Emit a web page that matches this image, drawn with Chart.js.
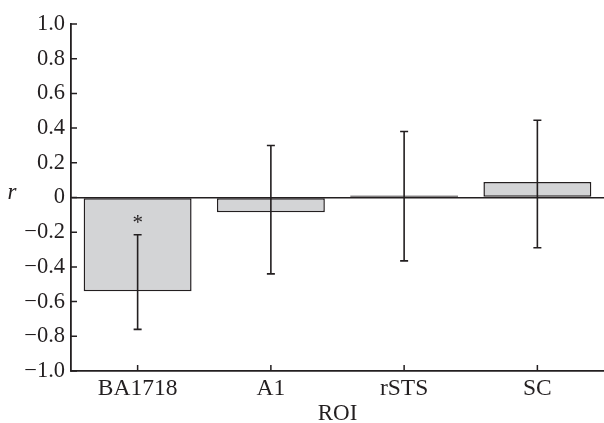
<!DOCTYPE html>
<html>
<head>
<meta charset="utf-8">
<script src="https://cdn.jsdelivr.net/npm/chart.js@4"></script>
<style>
  html, body { margin: 0; padding: 0; background: #fff; }
  #wrap { width: 604px; height: 423px; position: relative; }
</style>
</head>
<body>
<div id="wrap"><canvas id="roiChart"></canvas></div>
<script>
// ---------------------- Data ----------------------
const ROI_LABELS = ['BA1718', 'A1', 'rSTS', 'SC'];
const R_VALUES   = [-0.54, -0.085, 0.012, 0.09];
const CI_LOWER   = [-0.76, -0.44, -0.365, -0.29];
const CI_UPPER   = [-0.215, 0.30, 0.38, 0.445];
const SIG_MARKS  = ['*', '', '', ''];

const INK = '#231f20';
const FONT = '"Liberation Serif", "Times New Roman", serif';

// tick labels: "0", "0.2", "−0.4" ...
const fmtTick = (v) => {
  const r = Math.round(v * 10) / 10;
  if (r === 0) return '0';
  return (r < 0 ? '\u2212' : '') + Math.abs(r).toFixed(1);
};

// ---------------------- Plugins ----------------------
const errorBars = {
  id: 'errorBars',
  afterDatasetsDraw(chart) {
    const ctx = chart.ctx;
    const y = chart.scales.y;
    const meta = chart.getDatasetMeta(0);
    ctx.save();
    ctx.strokeStyle = INK;
    ctx.lineWidth = 1.6;
    meta.data.forEach((bar, i) => {
      const x = bar.x;
      const yLo = y.getPixelForValue(CI_LOWER[i]);
      const yHi = y.getPixelForValue(CI_UPPER[i]);
      ctx.beginPath();
      ctx.moveTo(x, yLo); ctx.lineTo(x, yHi);
      ctx.moveTo(x - 4, yLo); ctx.lineTo(x + 4, yLo);
      ctx.moveTo(x - 4, yHi); ctx.lineTo(x + 4, yHi);
      ctx.stroke();
      if (SIG_MARKS[i]) {
        ctx.fillStyle = INK;
        ctx.font = '21px ' + FONT;
        ctx.textAlign = 'center';
        ctx.textBaseline = 'middle';
        ctx.fillText(SIG_MARKS[i], x, yHi - 11);
      }
    });
    ctx.restore();
  },
};

// inward tick marks + the upright "r" axis label
const axisDecor = {
  id: 'axisDecor',
  afterDraw(chart) {
    const ctx = chart.ctx;
    const { x, y } = chart.scales;
    const area = chart.chartArea;
    ctx.save();
    ctx.strokeStyle = INK;
    ctx.lineWidth = 1.5;
    ctx.beginPath();
    y.ticks.forEach(t => {
      const py = y.getPixelForValue(t.value);
      ctx.moveTo(area.left, py); ctx.lineTo(area.left + 6, py);
    });
    chart.getDatasetMeta(0).data.forEach(bar => {
      ctx.moveTo(bar.x, area.bottom); ctx.lineTo(bar.x, area.bottom - 6);
    });
    ctx.stroke();

    ctx.fillStyle = INK;
    ctx.font = 'italic 23px ' + FONT;
    ctx.textAlign = 'center';
    ctx.textBaseline = 'middle';
    ctx.fillText('r', 12, y.getPixelForValue(0) - 5);
    ctx.restore();
  },
};

// ---------------------- Chart ----------------------
new Chart(document.getElementById('roiChart'), {
  type: 'bar',
  data: {
    labels: ROI_LABELS,
    datasets: [{
      data: R_VALUES,
      backgroundColor: '#d3d4d6',
      borderColor: INK,
      borderWidth: 1.5,
      borderSkipped: false,
      barPercentage: 0.81,
      categoryPercentage: 1,
    }],
  },
  options: {
    responsive: true,
    maintainAspectRatio: false,
    animation: false,
    layout: { padding: { top: 24, right: 0, left: 0, bottom: 0 } },
    plugins: { legend: { display: false }, tooltip: { enabled: false } },
    scales: {
      x: {
        grid: { display: false, drawTicks: false },
        border: { color: INK, width: 1.8 },
        ticks: { color: INK, font: { family: FONT, size: 23.5 }, padding: 4 },
        title: {
          display: true, text: 'ROI', color: INK,
          font: { family: FONT, size: 23, lineHeight: 0.8 }, padding: 0,
        },
        afterFit: (s) => { s.height = 52; },
      },
      y: {
        min: -1,
        max: 1,
        grid: {
          drawTicks: false,
          color: (c) => (c.tick && c.tick.value === 0 ? INK : 'rgba(0,0,0,0)'),
          lineWidth: 1.5,
        },
        border: { color: INK, width: 1.8 },
        ticks: {
          stepSize: 0.2,
          color: INK,
          font: { family: FONT, size: 22.5 },
          padding: 6,
          callback: fmtTick,
        },
        afterFit: (s) => { s.width = 71; },
      },
    },
  },
  plugins: [errorBars, axisDecor],
});
</script>
</body>
</html>
